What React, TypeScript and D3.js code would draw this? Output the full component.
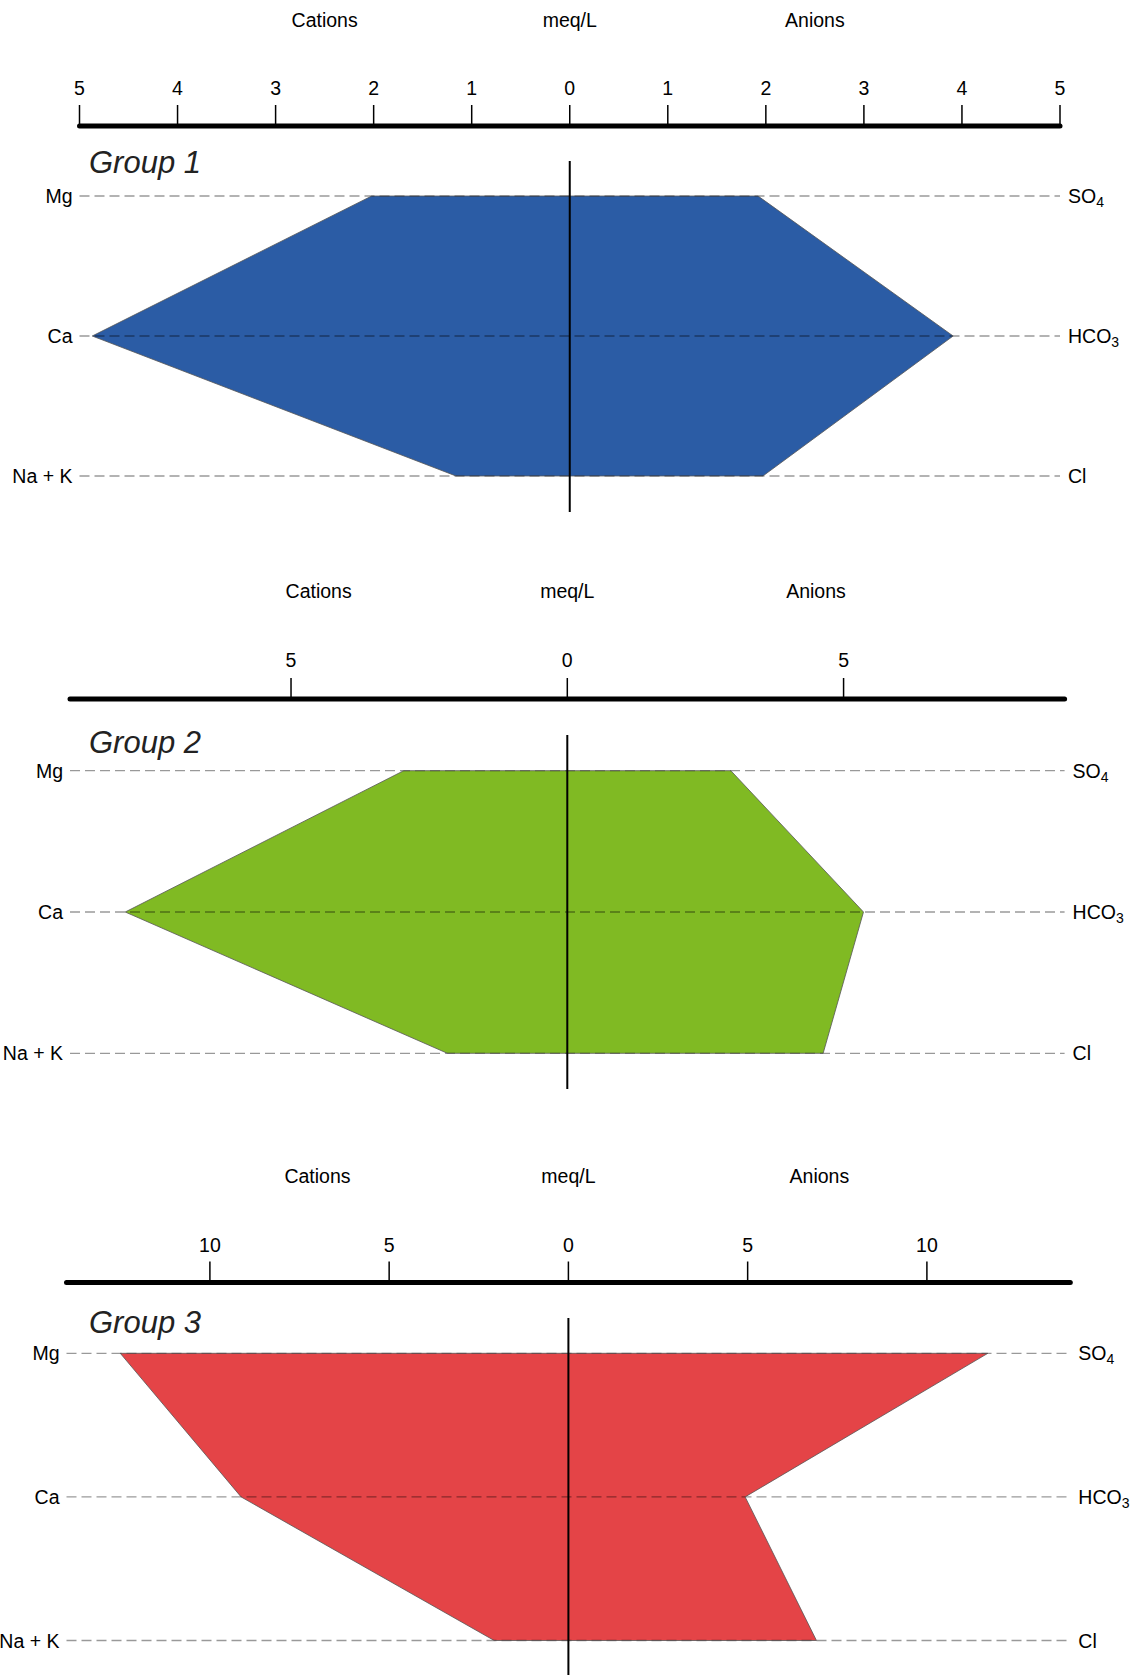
import React from "react";
import * as d3 from "d3";

// ---- Data ----
const cationLabels = ["Mg", "Ca", "Na + K"];
const anionLabels = [
  { base: "SO", sub: "4" },
  { base: "HCO", sub: "3" },
  { base: "Cl", sub: "" },
];
const groupNames = ["Group 1", "Group 2", "Group 3"];
const group1Cations = [2.02, 4.87, 1.16];
const group1Anions = [1.92, 3.91, 1.97];
const group2Cations = [2.96, 8.0, 2.17];
const group2Anions = [2.96, 5.36, 4.63];
const group3Cations = [12.5, 9.13, 2.07];
const group3Anions = [11.7, 4.93, 6.92];
const axisMax = [5, 9, 14];
const group1Ticks = [-5, -4, -3, -2, -1, 0, 1, 2, 3, 4, 5];
const group2Ticks = [-5, 0, 5];
const group3Ticks = [-10, -5, 0, 5, 10];
const colors = ["#2B5CA5", "#80BA23", "#E44447"];

// ---- Layout (positions only) ----
const layouts = [
  { left: 79.5, right: 1060, header: 20, tickLabel: 88, axis: 126, mg: 196, na: 476, group: 173, vTop: 161, vBottom: 512 },
  { left: 70, right: 1064.6, header: 591, tickLabel: 660, axis: 699, mg: 770.7, na: 1053.3, group: 753, vTop: 735, vBottom: 1089 },
  { left: 66.5, right: 1070.3, header: 1176, tickLabel: 1245, axis: 1282.5, mg: 1353.3, na: 1640.5, group: 1333, vTop: 1318, vBottom: 1676 },
];

const panels = [
  { cations: group1Cations, anions: group1Anions, ticks: group1Ticks },
  { cations: group2Cations, anions: group2Anions, ticks: group2Ticks },
  { cations: group3Cations, anions: group3Anions, ticks: group3Ticks },
];

const FONT = "'Liberation Sans', Arial, Helvetica, sans-serif";
const FS = 19.5;

function Panel({ i }: { i: number }) {
  const L = layouts[i];
  const P = panels[i];
  const max = axisMax[i];
  const x = d3.scaleLinear().domain([-max, max]).range([L.left, L.right]);
  const y = d3.scalePoint<number>().domain([0, 1, 2]).range([L.mg, L.na]);
  const pts: [number, number][] = [
    ...P.cations.map((v, k) => [x(-v), y(k)!] as [number, number]),
    ...P.anions.map((v, k) => [x(v), y(k)!] as [number, number]).reverse(),
  ];
  const path = d3.line().curve(d3.curveLinearClosed)(pts) || "";
  const x0 = x(0);
  return (
    <g fontFamily={FONT} fill="#000">
      <text x={(L.left + x0) / 2} y={L.header} fontSize={FS} textAnchor="middle" dominantBaseline="central">Cations</text>
      <text x={x0} y={L.header} fontSize={FS} textAnchor="middle" dominantBaseline="central">meq/L</text>
      <text x={(x0 + L.right) / 2} y={L.header} fontSize={FS} textAnchor="middle" dominantBaseline="central">Anions</text>
      {P.ticks.map((t) => (
        <g key={t}>
          <line x1={x(t)} x2={x(t)} y1={L.axis - 21} y2={L.axis} stroke="#000" strokeWidth={1.5} />
          <text x={x(t)} y={L.tickLabel} fontSize={FS} textAnchor="middle" dominantBaseline="central">{Math.abs(t)}</text>
        </g>
      ))}
      <line x1={x(-max)} x2={x(max)} y1={L.axis} y2={L.axis} stroke="#000" strokeWidth={5} strokeLinecap="round" />
      <text x={89} y={L.group} fontSize={31} fontStyle="italic" fill="#222">{groupNames[i]}</text>
      <path d={path} fill={colors[i]} stroke="none" />
      {[0, 1, 2].map((k) => (
        <line key={k} x1={x(-max)} x2={x(max)} y1={y(k)} y2={y(k)} stroke="#000" strokeOpacity={0.4} strokeWidth={1.3} strokeDasharray="10,5" />
      ))}
      <path d={path} fill="none" stroke="#555" strokeWidth={0.8} />
      <line x1={x0} x2={x0} y1={L.vTop} y2={L.vBottom} stroke="#000" strokeWidth={2} />
      {cationLabels.map((c, k) => (
        <text key={c} x={x(-max) - 7} y={y(k)} fontSize={FS} textAnchor="end" dominantBaseline="central">{c}</text>
      ))}
      {anionLabels.map((a, k) => (
        <text key={a.base} x={x(max) + 8} y={y(k)} fontSize={FS} dominantBaseline="central">
          {a.base}
          {a.sub ? <tspan fontSize={14} dy={6}>{a.sub}</tspan> : null}
        </text>
      ))}
    </g>
  );
}

export default function App() {
  return (
    <svg width={1134} height={1675} style={{ position: "absolute", left: 0, top: 0, background: "#fff" }}>
      <rect width={1134} height={1675} fill="#fff" />
      {[0, 1, 2].map((i) => <Panel key={i} i={i} />)}
    </svg>
  );
}
